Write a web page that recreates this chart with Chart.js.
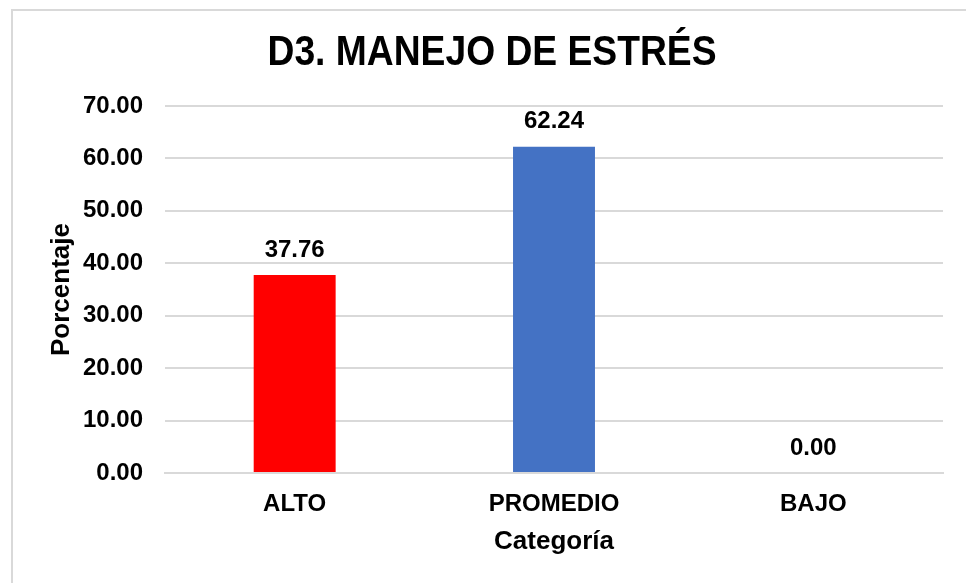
<!DOCTYPE html>
<html>
<head>
<meta charset="utf-8">
<script src="https://cdn.jsdelivr.net/npm/chart.js@4.4.1/dist/chart.umd.min.js"></script>
<style>
  html, body { margin: 0; padding: 0; background: #fff; }
  #wrap { position: relative; width: 966px; height: 583px; overflow: hidden; }
  #frame { position: absolute; left: 11px; top: 9px; width: 990px; height: 600px; border: 2px solid #d9d9d9; box-sizing: border-box; pointer-events: none; }
  canvas { position: absolute; left: 0; top: 0; }
</style>
</head>
<body>
<div id="wrap">
  <canvas id="grafico" width="966" height="583"></canvas>
  <div id="frame"></div>
</div>
<script>
const titulo = 'D3. MANEJO DE ESTRÉS';
const categorias = ['ALTO', 'PROMEDIO', 'BAJO'];
const porcentajes = [37.76, 62.24, 0.00];
const colores = ['#ff0000', '#4472c4', '#a5a5a5'];
const ticksY = [0, 10, 20, 30, 40, 50, 60, 70];

const fuente = "'Liberation Sans', Arial, sans-serif";

// etiquetas de valor encima de cada barra + titulo estrecho
const etiquetas = {
  id: 'etiquetas',
  afterDatasetsDraw(chart) {
    const ctx = chart.ctx;
    const meta = chart.getDatasetMeta(0);
    ctx.save();
    ctx.font = 'bold 24px ' + fuente;
    ctx.fillStyle = '#000';
    ctx.textAlign = 'center';
    ctx.textBaseline = 'middle';
    meta.data.forEach((bar, i) => {
      ctx.fillText(porcentajes[i].toFixed(2), bar.x, bar.y - 25);
    });
    ctx.restore();
  },
  afterDraw(chart) {
    const ctx = chart.ctx;
    ctx.save();
    ctx.font = 'bold 42px ' + fuente;
    ctx.fillStyle = '#000';
    ctx.textAlign = 'center';
    ctx.textBaseline = 'middle';
    const w = ctx.measureText(titulo).width;
    const k = 449 / w;
    ctx.translate(492, 53);
    ctx.scale(k, 1);
    ctx.fillText(titulo, 0, 0);
    ctx.restore();
  }
};

const ctx = document.getElementById('grafico').getContext('2d');
const myChart = new Chart(ctx, {
  type: 'bar',
  data: {
    labels: categorias,
    datasets: [{
      data: porcentajes,
      backgroundColor: colores,
      barPercentage: 0.316,
      categoryPercentage: 1
    }]
  },
  options: {
    responsive: false,
    animation: false,
    layout: { padding: { left: 38, right: 23, top: 106, bottom: 0 } },
    plugins: {
      legend: { display: false },
      tooltip: { enabled: false },
      title: { display: false }
    },
    scales: {
      x: {
        grid: { display: false, drawTicks: false },
        border: { color: '#d9d9d9', width: 2 },
        ticks: { color: '#000', font: { family: fuente, size: 24, weight: 'bold' }, padding: 17 },
        title: {
          display: true, text: 'Categoría', color: '#000',
          font: { family: fuente, size: 26, weight: 'bold' },
          padding: { top: 0, bottom: 26 }
        },
        afterFit(scale) { scale.height = 110; }
      },
      y: {
        min: 0, max: 70,
        afterBuildTicks(scale) { scale.ticks = ticksY.map(v => ({ value: v })); },
        grid: { color: '#d9d9d9', lineWidth: 2, drawTicks: false },
        border: { display: false },
        ticks: {
          color: '#000', font: { family: fuente, size: 24, weight: 'bold' }, padding: 22,
          callback: v => Number(v).toFixed(2)
        },
        title: {
          display: true, text: 'Porcentaje', color: '#000',
          font: { family: fuente, size: 26, weight: 'bold' },
          padding: { top: 8, bottom: 0 }
        },
        afterFit(scale) { scale.width = 127; }
      }
    }
  },
  plugins: [etiquetas]
});
</script>
</body>
</html>
